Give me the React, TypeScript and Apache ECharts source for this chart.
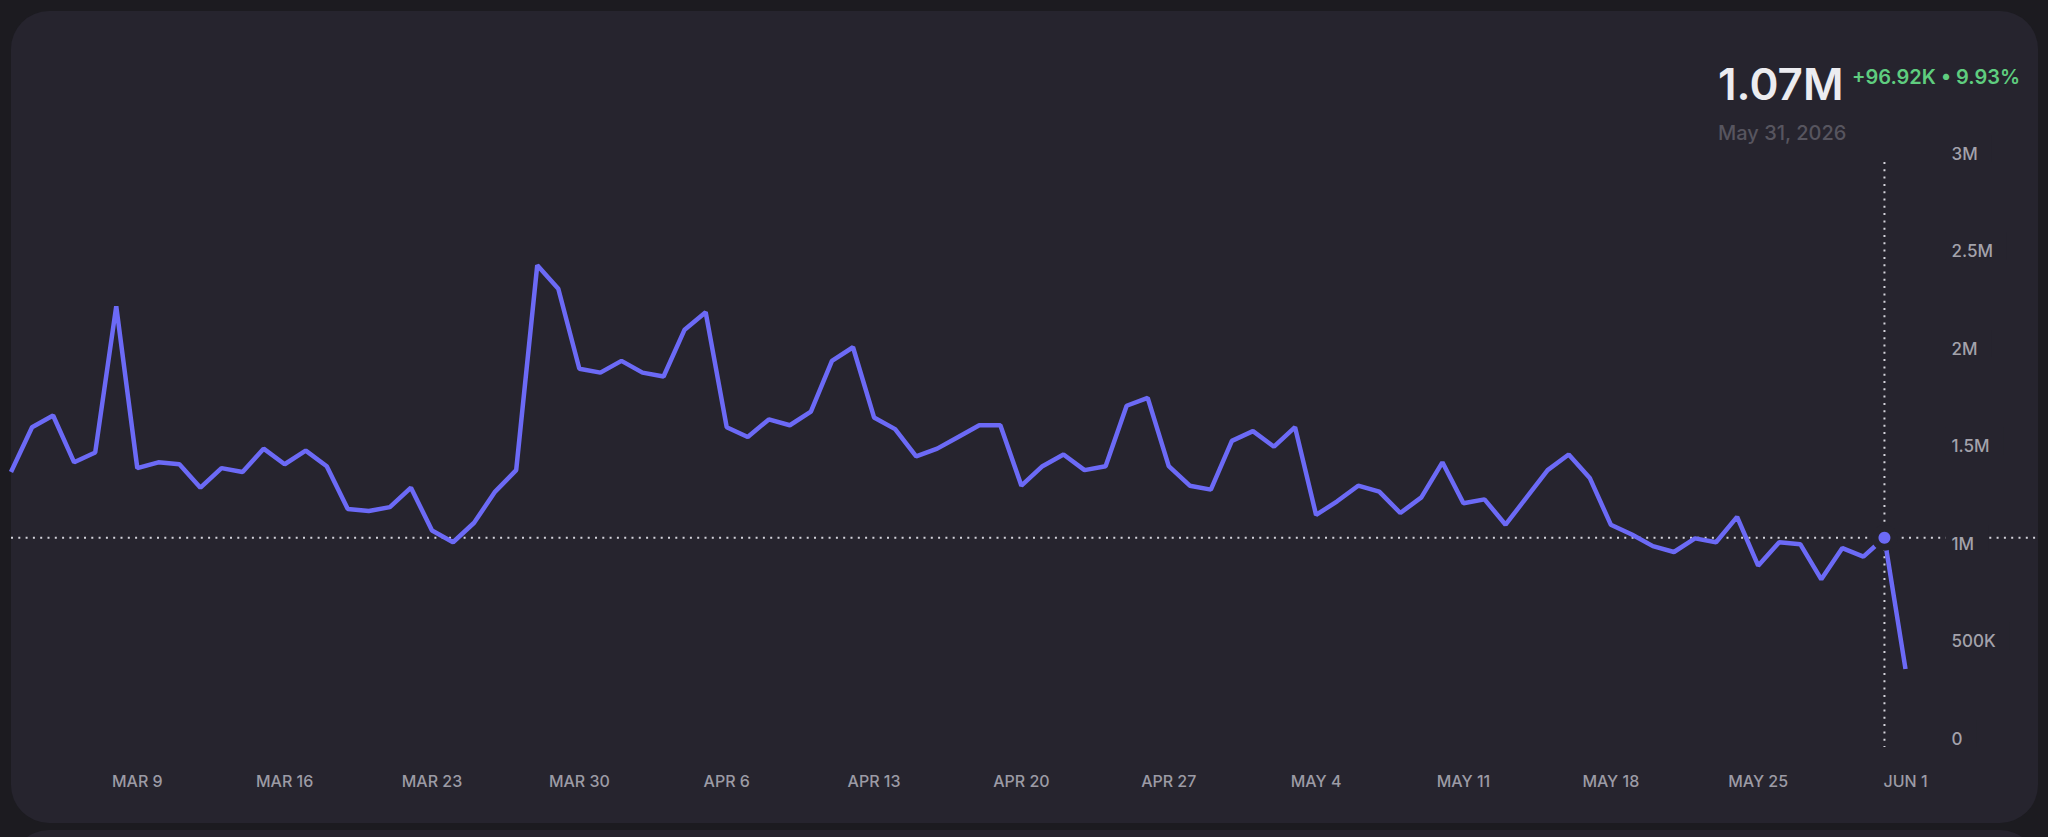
import React, { useEffect, useRef } from "react";
import * as echarts from "echarts";

// ---- data ----
const START_UTC = Date.UTC(2026, 2, 3); // Mar 3, 2026
const MONTHS = ["Jan", "Feb", "Mar", "Apr", "May", "Jun", "Jul", "Aug", "Sep", "Oct", "Nov", "Dec"];

const values: number[] = [
  1410000, 1640000, 1700000, 1460000, 1510000, 2260000, 1430000, 1460000, 1450000, 1330000,
  1430000, 1410000, 1530000, 1450000, 1520000, 1440000, 1220000, 1210000, 1230000, 1330000,
  1110000, 1050000, 1150000, 1310000, 1420000, 2470000, 2350000, 1940000, 1920000, 1980000,
  1920000, 1900000, 2140000, 2230000, 1640000, 1590000, 1680000, 1650000, 1720000, 1980000,
  2050000, 1690000, 1630000, 1490000, 1530000, 1590000, 1650000, 1650000, 1340000, 1440000,
  1500000, 1420000, 1440000, 1750000, 1790000, 1440000, 1340000, 1320000, 1570000, 1620000,
  1540000, 1640000, 1190000, 1260000, 1340000, 1310000, 1200000, 1280000, 1460000, 1250000,
  1270000, 1140000, 1280000, 1420000, 1500000, 1380000, 1140000, 1090000, 1030000, 1000000,
  1070000, 1050000, 1180000, 930000, 1050000, 1040000, 860000, 1020000, 976000, 1072900,
  400000,
];

const categories: string[] = values.map((_, i) => {
  const d = new Date(START_UTC + i * 86400000);
  return `${MONTHS[d.getUTCMonth()]} ${d.getUTCDate()}`;
});

const FIRST_TICK_INDEX = 6; // Mar 9
const TICK_STEP = 7;
const Y_MIN = 0;
const Y_MAX = 3000000;
const Y_INTERVAL = 500000;

const focusIndex = 89; // May 31
const headlineValue = "1.07M";
const headlineChange = "+96.92K • 9.93%";
const headlineDate = "May 31, 2026";

// ---- styles ----
const PAGE_BG = "#1c1b20";
const CARD_BG = "#26242e";
const LINE_COLOR = "#6c6af6";
const DOT_LINE = "#d4d3db";
const FONT = "Inter, 'Noto Sans', sans-serif";

function fmtY(v: number): string {
  if (v === 0) return "0";
  if (v >= 1000000) return `${v / 1000000}M`;
  return `${v / 1000}K`;
}

export default function App() {
  const ref = useRef<HTMLDivElement>(null);

  useEffect(() => {
    if (!ref.current) return;
    document.body.style.margin = "0";
    document.body.style.background = PAGE_BG;
    const chart = echarts.init(ref.current, undefined, { renderer: "svg" });
    chart.setOption({
      animation: false,
      backgroundColor: "transparent",
      grid: { left: 11, right: 142.5, top: 162, bottom: 90, containLabel: false },
      xAxis: {
        type: "category",
        data: categories,
        boundaryGap: false,
        axisLine: { show: false },
        axisTick: { show: false },
        splitLine: { show: false },
        axisLabel: {
          interval: (idx: number) => idx >= FIRST_TICK_INDEX && (idx - FIRST_TICK_INDEX) % TICK_STEP === 0,
          formatter: (v: string) => v.toUpperCase(),
          margin: 26,
          color: "#9c9ba5",
          fontSize: 16,
          fontFamily: FONT,
          fontWeight: 500,
        },
      },
      yAxis: {
        type: "value",
        position: "right",
        min: Y_MIN,
        max: Y_MAX,
        interval: Y_INTERVAL,
        z: 6,
        axisLine: { show: false },
        axisTick: { show: false },
        splitLine: { show: false },
        axisLabel: {
          formatter: fmtY,
          margin: 40,
          color: "#a3a2ab",
          fontSize: 17,
          fontFamily: FONT,
          fontWeight: 500,
          verticalAlign: "bottom",
          align: "left",
          padding: [10, 14, 0, 6],
          backgroundColor: CARD_BG,
        },
      },
      series: [
        {
          type: "line",
          data: values,
          showSymbol: false,
          silent: true,
          z: 2,
          lineStyle: { color: LINE_COLOR, width: 4.5 },
        },
        {
          type: "scatter",
          data: [[focusIndex, values[focusIndex]]],
          symbolSize: 26,
          silent: true,
          z: 4,
          itemStyle: { color: CARD_BG, opacity: 1 },
        },
        {
          type: "scatter",
          data: [[focusIndex, values[focusIndex]]],
          symbolSize: 12,
          silent: true,
          z: 5,
          itemStyle: { color: LINE_COLOR, opacity: 1 },
        },
      ],
    });

    const p = chart.convertToPixel({ gridIndex: 0 }, [focusIndex, values[focusIndex]]) as number[];
    const pTop = chart.convertToPixel({ gridIndex: 0 }, [focusIndex, Y_MAX]) as number[];
    const pBot = chart.convertToPixel({ gridIndex: 0 }, [focusIndex, Y_MIN]) as number[];

    chart.setOption({
      graphic: [
        {
          type: "line",
          z: 0,
          silent: true,
          shape: { x1: 11, y1: p[1], x2: 2038, y2: p[1] },
          style: { stroke: DOT_LINE, lineWidth: 2, lineDash: [2, 5.3] },
        },
        {
          type: "line",
          z: 0,
          silent: true,
          shape: { x1: p[0], y1: pTop[1], x2: p[0], y2: pBot[1] },
          style: { stroke: DOT_LINE, lineWidth: 2, lineDash: [2, 5.3] },
        },
        {
          type: "text",
          x: 1718,
          y: 84,
          silent: true,
          style: {
            text: headlineValue,
            fill: "#ececf0",
            fontSize: 44,
            fontWeight: 600,
            fontFamily: FONT,
            align: "left",
            verticalAlign: "middle",
          },
        },
        {
          type: "text",
          x: 1852,
          y: 77,
          silent: true,
          style: {
            text: headlineChange,
            fill: "#5fcd7f",
            fontSize: 20,
            fontWeight: 600,
            fontFamily: FONT,
            align: "left",
            verticalAlign: "middle",
          },
        },
        {
          type: "text",
          x: 1718,
          y: 133,
          silent: true,
          style: {
            text: headlineDate,
            fill: "#57555f",
            fontSize: 20,
            fontWeight: 500,
            fontFamily: FONT,
            align: "left",
            verticalAlign: "middle",
          },
        },
      ],
    });

    return () => chart.dispose();
  }, []);

  return (
    <div
      style={{
        position: "fixed",
        left: 0,
        top: 0,
        width: 2048,
        height: 837,
        background: PAGE_BG,
        overflow: "hidden",
      }}
    >
      <div
        style={{
          position: "absolute",
          left: 11,
          top: 11,
          width: 2027,
          height: 812,
          borderRadius: 38,
          background: CARD_BG,
        }}
      />
      <div
        style={{
          position: "absolute",
          left: 11,
          top: 830,
          width: 2027,
          height: 200,
          borderRadius: 38,
          background: CARD_BG,
        }}
      />
      <div
        ref={ref}
        style={{ position: "absolute", left: 0, top: 0, width: 2048, height: 837 }}
      />
    </div>
  );
}
